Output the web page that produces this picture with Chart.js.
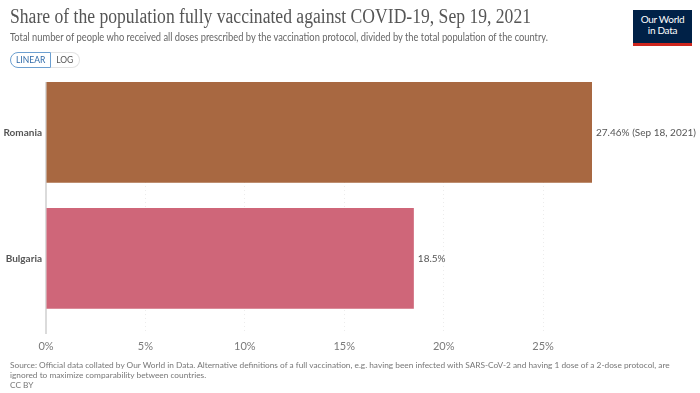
<!DOCTYPE html>
<html><head><meta charset="utf-8">
<script src="https://cdn.jsdelivr.net/npm/chart.js@4/dist/chart.umd.min.js"></script>
<style>
html,body{margin:0;padding:0;background:#fff;}
#wrap{position:relative;width:700px;height:393px;overflow:hidden;font-family:Lato,"Open Sans",sans-serif;}
#c{position:absolute;left:0;top:0;}
.t{position:absolute;white-space:nowrap;}
#title{left:10px;top:5px;font-family:"Liberation Serif","DejaVu Serif",serif;font-size:20px;color:#555;transform-origin:0 0;}
#sub{left:10px;top:31px;font-size:10.5px;color:#666;transform-origin:0 0;}
#btns{position:absolute;left:10px;top:52px;height:16px;display:flex;font-size:8.5px;}
#lin{border:1px solid #6c9fd0;border-radius:9px 0 0 9px;color:#2f6aa8;padding:0 5px;line-height:15px;}
#log{border:1px solid #e3e3e3;border-left:none;border-radius:0 9px 9px 0;color:#555;padding:0 6px 0 5px;line-height:15px;}
#logo{position:absolute;left:633px;top:10px;width:59px;height:36px;background:#002147;border-bottom:3px solid #ce261e;box-sizing:border-box;color:#fff;font-size:10px;text-align:center;line-height:11px;padding-top:4px;letter-spacing:-0.3px;}
#foot{left:10px;top:360px;font-size:8.3px;color:#777;line-height:10px;white-space:normal;width:680px;}
</style></head>
<body><div id="wrap">
<canvas id="c" width="700" height="393"></canvas>
<div class="t" id="title">Share of the population fully vaccinated against COVID-19, Sep 19, 2021</div>
<div class="t" id="sub">Total number of people who received all doses prescribed by the vaccination protocol, divided by the total population of the country.</div>
<div id="btns"><div id="lin">LINEAR</div><div id="log">LOG</div></div>
<div id="logo">Our World<br>in Data</div>
<div class="t" id="foot">Source: Official data collated by Our World in Data. Alternative definitions of a full vaccination, e.g. having been infected with SARS-CoV-2 and having 1 dose of a 2-dose protocol, are ignored to maximize comparability between countries.<br>CC BY</div>
</div>
<script>
const countries = ["Romania", "Bulgaria"];
const values = [27.46, 18.5];
const valueNotes = [" (Sep 18, 2021)", ""];
const barColors = ["#a86841", "#cf6679"];
const xTicks = [0, 5, 10, 15, 20, 25];

function fit(id, w){const e=document.getElementById(id);const r=e.getBoundingClientRect().width;e.style.transform='scaleX('+(w/r)+')';}
fit('title',521); fit('sub',538);

const labelPlugin = {
  id:'valLabels',
  afterDatasetsDraw(chart){
    const ctx=chart.ctx; const meta=chart.getDatasetMeta(0);
    ctx.save(); ctx.font='10px Lato'; ctx.fillStyle='#555'; ctx.textBaseline='middle'; ctx.textAlign='left';
    meta.data.forEach((b,i)=>{ ctx.fillText(values[i]+'%'+valueNotes[i], b.x+4, b.y); });
    ctx.restore();
  }
};
const zeroAxis = {
  id:'zeroAxis',
  beforeDatasetsDraw(chart){
    const x = chart.scales.x.getPixelForValue(0); const a=chart.chartArea;
    const c=chart.ctx; c.save(); c.strokeStyle='#cfcfcf'; c.lineWidth=1.5;
    c.beginPath(); c.moveTo(x, a.top); c.lineTo(x, a.bottom); c.stroke(); c.restore();
  }
};

new Chart(document.getElementById('c'), {
  type:'bar',
  data:{ datasets:[{ data: countries.map((c,i)=>({x:values[i], y:i})), backgroundColor:barColors, borderWidth:0, barPercentage:0.8, categoryPercentage:1 }]},
  plugins:[labelPlugin, zeroAxis],
  options:{
    indexAxis:'y', responsive:false, animation:false,
    layout:{padding:{left:0,top:82,right:108,bottom:39}},
    plugins:{legend:{display:false}, tooltip:{enabled:false}},
    scales:{
      y:{ type:'linear', reverse:true, min:-0.4, max:1.6, offset:false,
          afterBuildTicks(s){ s.ticks = countries.map((c,i)=>({value:i})); },
          afterFit(s){ s.width=46; },
          grid:{display:false, drawTicks:false, offset:false}, border:{display:false},
          ticks:{ callback:(v)=>countries[v]||'', font:{family:'Lato',size:10,weight:'bold'}, color:'#555', padding:4 } },
      x:{ type:'linear', min:0, max:Math.max(...values),
          afterBuildTicks(s){ s.ticks = xTicks.map(v=>({value:v})); },
          afterFit(s){ s.height=20; },
          grid:{ color:(c)=>c.tick && c.tick.value===0 ? 'rgba(0,0,0,0)' : '#ececec', drawTicks:false },
          border:{ display:false, dash:[1,3] },
          ticks:{ callback:(v)=>v+'%', font:{family:'Lato',size:11}, color:'#7a7a7a', padding:6 } }
    }
  }
});
</script>
</body></html>
